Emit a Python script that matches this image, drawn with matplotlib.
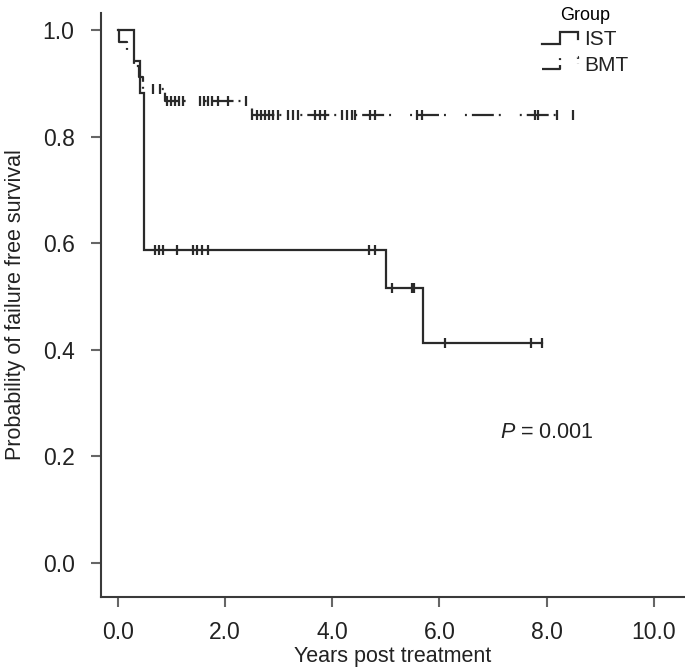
import numpy as np
import matplotlib
matplotlib.use('Agg')
import matplotlib.pyplot as plt
from matplotlib.lines import Line2D
from matplotlib.legend_handler import HandlerBase

plt.rcParams['font.family'] = ['Liberation Sans', 'DejaVu Sans']
plt.rcParams['mathtext.fontset'] = 'custom'
plt.rcParams['mathtext.it'] = 'Liberation Sans:italic'
plt.rcParams['mathtext.rm'] = 'Liberation Sans'
plt.rcParams['lines.scale_dashes'] = False

# IST group: time of each event and survival right after it
ist_times = [0.0, 0.30, 0.42, 0.49, 5.00, 5.70]
ist_surv = [1.0, 0.941, 0.882, 0.588, 0.515, 0.412]
ist_censored = [0.70, 0.78, 0.85, 1.10, 1.41, 1.49, 1.57, 1.69,
                4.69, 4.80, 5.11, 5.49, 5.52, 6.10, 7.70, 7.91]
ist_last = 7.91

# BMT group
bmt_times = [0.0, 0.02, 0.18, 0.30, 0.40, 0.48, 0.89, 2.50]
bmt_surv = [1.0, 0.978, 0.956, 0.933, 0.911, 0.889, 0.867, 0.840]
bmt_censored = [0.66, 0.79, 0.92, 1.00, 1.07, 1.15, 1.22, 1.54, 1.61, 1.69,
                1.76, 1.87, 2.06, 2.40, 2.51, 2.60, 2.67, 2.75, 2.82, 2.90,
                2.99, 3.18, 3.27, 3.36, 3.68, 3.77, 3.87, 4.18, 4.28, 4.37,
                4.43, 4.71, 4.80, 5.58, 5.68, 7.78, 7.84, 8.19, 8.49]
bmt_last = 8.49

x_ticks = [0, 2, 4, 6, 8, 10]
y_ticks = [0.0, 0.2, 0.4, 0.6, 0.8, 1.0]
p_text = '$P$ = 0.001'

line_color = '#2a2a2a'
bmt_dashes = (0, (15.8, 3.6, 1.4, 13.7, 1.4, 3.6))


class StepHandler(HandlerBase):
    # little step glyph like the SPSS legend
    def create_artists(self, legend, orig_handle, xdescent, ydescent,
                       width, height, fontsize, trans):
        x0 = -xdescent
        y0 = -ydescent
        xs = [x0, x0 + 0.5 * width, x0 + 0.5 * width, x0 + width, x0 + width]
        ys = [y0 + 0.1 * height, y0 + 0.1 * height, y0 + 0.95 * height,
              y0 + 0.95 * height, y0 + 0.45 * height]
        ln = Line2D(xs, ys)
        ln.update_from(orig_handle)
        ln.set_drawstyle('default')
        ln.set_marker('')
        ln.set_transform(trans)
        return [ln]


def surv_at(times, surv, t):
    idx = np.searchsorted(times, t, side='right') - 1
    return np.asarray(surv)[idx]


fig = plt.figure(figsize=(6.85, 6.70), dpi=100)
ax = fig.add_axes([0.1474, 0.109, 0.851, 0.8716])

ist_line, = ax.step(ist_times + [ist_last], ist_surv + [ist_surv[-1]], where='post',
                    color=line_color, lw=1.6, solid_joinstyle='miter')
bmt_line, = ax.step(bmt_times + [bmt_last], bmt_surv + [bmt_surv[-1]], where='post',
                    color=line_color, lw=1.6, linestyle=bmt_dashes)

ax.plot(ist_censored, surv_at(ist_times, ist_surv, ist_censored), ls='none',
        marker='|', ms=7, mew=1.6, color=line_color)
ax.plot(bmt_censored, surv_at(bmt_times, bmt_surv, bmt_censored), ls='none',
        marker='|', ms=7, mew=1.6, color=line_color)

ax.set_xlim(-0.31, 10.56)
ax.set_ylim(-0.064, 1.032)
ax.set_xticks(x_ticks)
ax.set_xticklabels([f'{v:.1f}' for v in x_ticks])
ax.set_yticks(y_ticks)
ax.set_yticklabels([f'{v:.1f}' for v in y_ticks])

for side in ['top', 'right']:
    ax.spines[side].set_visible(False)
for side in ['left', 'bottom']:
    ax.spines[side].set_color('#3a3a3a')
    ax.spines[side].set_linewidth(1.5)
ax.tick_params(direction='out', length=7, width=1.5, color='#666666',
               labelsize=16.5, labelcolor='#222222')
ax.tick_params(axis='x', pad=10)
ax.tick_params(axis='y', pad=12)

ax.set_xlabel('Years post treatment', fontsize=15.5, color='#222222', labelpad=2)
ax.set_ylabel('Probability of failure free survival', fontsize=15.5,
              color='#222222', labelpad=12)

ax.text(7.13, 0.244, p_text, fontsize=15.5, color='#222222', ha='left', va='center')

leg = ax.legend([ist_line, bmt_line], ['IST', 'BMT'], title='Group',
                handler_map={Line2D: StepHandler()},
                loc='upper left', bbox_to_anchor=(0.732, 1.035),
                frameon=False, fontsize=15, title_fontsize=13,
                handlelength=1.7, handletextpad=0.3, labelspacing=0.3,
                borderpad=0.2)
for txt in leg.get_texts():
    txt.set_color('#222222')

fig.savefig('out.png', dpi=100)
